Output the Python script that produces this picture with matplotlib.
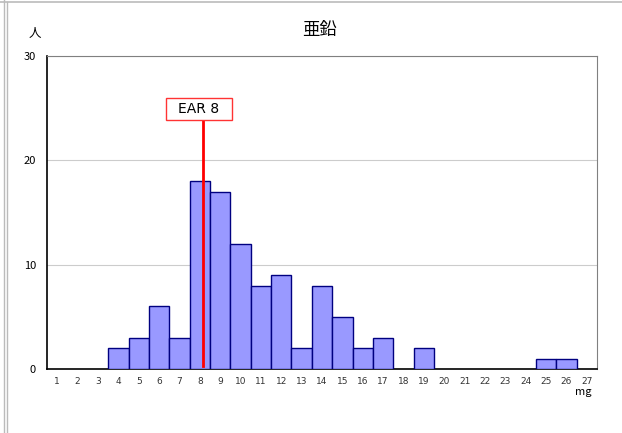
import matplotlib.pyplot as plt
import matplotlib.lines as mlines
from matplotlib.patches import Rectangle

plt.rcParams['font.family'] = ['Noto Sans CJK JP', 'DejaVu Sans']

# intake (mg) vs number of people
categories = list(range(1, 28))
counts = [0, 0, 0, 2, 3, 6, 3, 18, 17, 12, 8, 9, 2, 8, 5, 2, 3, 0, 2, 0, 0, 0, 0, 0, 1, 1, 0]
ear_value = 8
ear_label = 'EAR 8'

fig = plt.figure(figsize=(6.22, 4.33), dpi=100)
ax = fig.add_axes([0.0756, 0.1478, 0.8842, 0.7229])

# only draw non-empty bins (empty ones would leave an edge line on the baseline)
bx = [c - 1 for c, n in zip(categories, counts) if n > 0]
by = [n for n in counts if n > 0]
ax.bar(bx, by, width=1.0, color='#9999FF', edgecolor='#000080', linewidth=1.0, zorder=3)

x = [c - 1 for c in categories]
ax.set_xlim(-0.5, len(categories) - 0.5)
ax.set_ylim(0, 30)
ax.set_yticks([0, 10, 20, 30])
ax.set_xticks(x)
ax.set_xticklabels([str(c) for c in categories], fontsize=6.5, color='#333333',
                   family=['DejaVu Sans'])
ax.tick_params(axis='both', length=0)
ax.tick_params(axis='y', labelsize=8, pad=8)
ax.tick_params(axis='x', pad=6)
ax.grid(axis='y', color='#cccccc', linewidth=0.8, zorder=0)

for side in ['top', 'right']:
    ax.spines[side].set_color('#808080')
for side in ['left', 'bottom']:
    ax.spines[side].set_color('black')
    ax.spines[side].set_linewidth(1.2)

# EAR marker line and label box
ear_x = ear_value - 1 + 0.15
ax.plot([ear_x, ear_x], [0.3, 23.9], color='red', linewidth=2, zorder=4)
ax.add_patch(Rectangle((ear_value - 1 - 1.66, 23.9), 3.24, 2.1, facecolor='white',
                       edgecolor='#ff3333', linewidth=1, zorder=5))
ax.text(ear_value - 1 - 0.04, 24.95, ear_label, ha='center', va='center', fontsize=10,
        family=['DejaVu Sans'], zorder=6)

fig.text(0.514, 0.93, '亜鉛', ha='center', va='center', fontsize=12.5)
fig.text(0.056, 0.923, '人', ha='center', va='center', fontsize=9)
fig.text(0.937, 0.094, 'mg', ha='center', va='center', fontsize=8)

# outer frame lines of the sheet
fig.add_artist(mlines.Line2D([0, 1], [0.995, 0.995], color='#bbbbbb', linewidth=1.2))
fig.add_artist(mlines.Line2D([0.006, 0.006], [0, 1], color='#bbbbbb', linewidth=1.0))
fig.add_artist(mlines.Line2D([0.012, 0.012], [0, 0.995], color='#bbbbbb', linewidth=1.0))

fig.savefig('out.png', dpi=100, facecolor='white')
